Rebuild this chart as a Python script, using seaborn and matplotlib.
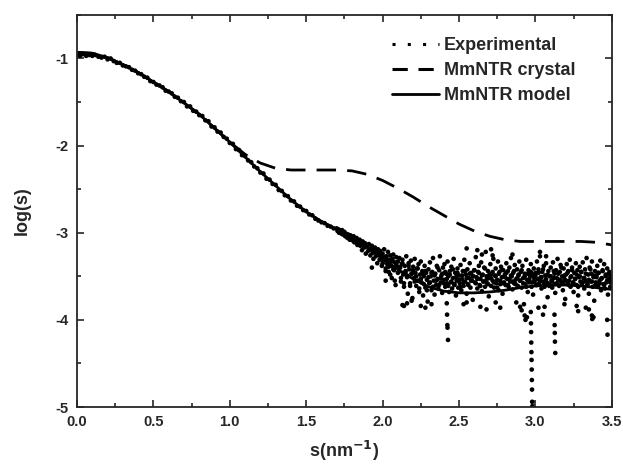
import numpy as np
import matplotlib
matplotlib.use("Agg")
import matplotlib.pyplot as plt
from matplotlib.lines import Line2D
from matplotlib.ticker import MultipleLocator
import seaborn as sns

# model curves, read every 0.1 in s
s_curve = [0.0, 0.1, 0.2, 0.3, 0.4, 0.5, 0.6, 0.7, 0.8, 0.9, 1.0, 1.1, 1.2,
           1.3, 1.4, 1.5, 1.6, 1.7, 1.8, 1.9, 2.0, 2.1, 2.2, 2.3, 2.4, 2.5,
           2.6, 2.7, 2.8, 2.9, 3.0, 3.1, 3.2, 3.3, 3.4, 3.5]
model = [-0.93, -0.94, -0.99, -1.07, -1.16, -1.27, -1.38, -1.51, -1.64, -1.80,
         -1.96, -2.13, -2.30, -2.46, -2.62, -2.76, -2.87, -2.96, -3.06, -3.17,
         -3.30, -3.42, -3.53, -3.62, -3.67, -3.69, -3.69, -3.68, -3.66, -3.63,
         -3.61, -3.60, -3.60, -3.61, -3.63, -3.65]
crystal = [-0.93, -0.94, -0.99, -1.07, -1.16, -1.27, -1.38, -1.51, -1.64, -1.80,
           -1.96, -2.10, -2.20, -2.26, -2.28, -2.28, -2.28, -2.28, -2.29, -2.33,
           -2.40, -2.49, -2.59, -2.70, -2.80, -2.90, -2.98, -3.04, -3.08, -3.10,
           -3.10, -3.10, -3.10, -3.10, -3.11, -3.14]

# experimental, low s part (0 .. 1.68, step 0.02)
exp_low = [-0.96, -0.97, -0.95, -0.97, -0.96, -0.97, -0.96, -0.98, -0.99, -0.98,
           -1.01, -1.00, -1.03, -1.05, -1.05, -1.08, -1.09, -1.10, -1.13, -1.14,
           -1.17, -1.18, -1.21, -1.22, -1.26, -1.27, -1.30, -1.31, -1.33, -1.37,
           -1.38, -1.40, -1.44, -1.45, -1.49, -1.50, -1.55, -1.55, -1.60, -1.61,
           -1.65, -1.66, -1.71, -1.72, -1.78, -1.79, -1.84, -1.85, -1.90, -1.92,
           -1.97, -1.98, -2.04, -2.05, -2.11, -2.12, -2.17, -2.19, -2.24, -2.26,
           -2.31, -2.32, -2.38, -2.39, -2.44, -2.45, -2.51, -2.52, -2.57, -2.58,
           -2.63, -2.64, -2.69, -2.70, -2.74, -2.75, -2.79, -2.80, -2.84, -2.86,
           -2.88, -2.89, -2.92, -2.93, -2.95]

# experimental, high s part (1.70 .. 3.50, step 0.005)
exp_high = [
    -2.95, -2.98, -2.96, -3.00, -2.97, -2.99, -3.01, -2.97, -3.02, -3.00, -2.99, -3.04, -3.01, -3.03, -3.06, -3.02, -3.05, -3.08, -3.03, -3.06,
    -3.05, -3.09, -3.04, -3.11, -3.07, -3.10, -3.06, -3.14, -3.09, -3.12, -3.08, -3.15, -3.11, -3.20, -3.10, -3.13, -3.17, -3.12, -3.24, -3.14,
    -3.16, -3.21, -3.13, -3.19, -3.26, -3.18, -3.15, -3.23, -3.30, -3.20, -3.17, -3.27, -3.22, -3.35, -3.19, -3.25, -3.31, -3.21, -3.28, -3.38,
    -3.24, -3.33, -3.19, -3.29, -3.41, -3.27, -3.36, -3.22, -3.45, -3.31, -3.26, -3.38, -3.52, -3.30, -3.25, -3.43, -3.34, -3.60, -3.28, -3.39,
    -3.33, -3.45, -3.29, -3.40, -3.56, -3.36, -3.31, -3.48, -3.62, -3.38, -3.44, -3.27, -3.51, -3.70, -3.35, -3.42, -3.58, -3.32, -3.47, -3.75,
    -3.39, -3.52, -3.30, -3.46, -3.61, -3.41, -3.55, -3.36, -3.68, -3.48, -3.33, -3.57, -3.44, -3.72, -3.50, -3.38, -3.63, -3.46, -3.54, -3.79,
    -3.42, -3.58, -3.34, -3.50, -3.66, -3.45, -3.29, -3.55, -3.71, -3.47, -3.60, -3.38, -3.53, -3.64, -3.43, -3.27, -3.57, -3.49, -3.69, -3.40,
    -3.54, -3.36, -3.62, -3.47, -3.58, -3.33, -3.50, -3.68, -3.44, -3.57, -3.39, -3.64, -3.52, -3.30, -3.60, -3.46, -3.72, -3.55, -3.41, -3.63,
    -3.49, -3.58, -3.37, -3.66, -3.53, -3.44, -3.61, -3.31, -3.56, -3.48, -3.70, -3.42, -3.59, -3.52, -3.35, -3.63, -3.46, -3.55, -3.77, -3.50,
    -3.43, -3.57, -3.28, -3.51, -3.64, -3.45, -3.38, -3.60, -3.53, -3.34, -3.67, -3.48, -3.56, -3.40, -3.62, -3.22, -3.50, -3.58, -3.44, -3.73,
    -3.52, -3.36, -3.61, -3.47, -3.55, -3.30, -3.63, -3.49, -3.41, -3.58, -3.54, -3.33, -3.66, -3.45, -3.59, -3.39, -3.51, -3.70, -3.43, -3.57,
    -3.48, -3.60, -3.35, -3.53, -3.44, -3.62, -3.40, -3.56, -3.29, -3.50, -3.65, -3.46, -3.58, -3.37, -3.54, -3.80, -3.42, -3.61, -3.49, -3.33,
    -3.55, -3.45, -3.63, -3.38, -3.52, -3.82, -3.47, -3.59, -3.31, -3.54, -3.68, -3.43, -3.57, -3.50, -3.36, -3.62, -3.48, -3.71, -3.41, -3.56,
    -3.46, -3.60, -3.33, -3.53, -3.42, -3.58, -3.27, -3.51, -3.64, -3.45, -3.56, -3.38, -3.62, -3.49, -3.35, -3.57, -3.74, -3.44, -3.59, -3.50,
    -3.40, -3.55, -3.63, -3.34, -3.52, -3.47, -3.69, -3.43, -3.58, -3.30, -3.54, -3.61, -3.45, -3.37, -3.57, -3.50, -3.66, -3.41, -3.53, -3.76,
    -3.48, -3.36, -3.59, -3.44, -3.55, -3.31, -3.62, -3.50, -3.40, -3.57, -3.68, -3.46, -3.53, -3.35, -3.60, -3.43, -3.72, -3.51, -3.39, -3.56,
    -3.45, -3.58, -3.34, -3.52, -3.64, -3.42, -3.55, -3.29, -3.60, -3.48, -3.70, -3.40, -3.56, -3.47, -3.33, -3.62, -3.51, -3.78, -3.44, -3.57,
    -3.49, -3.38, -3.61, -3.46, -3.55, -3.32, -3.66, -3.52, -3.43, -3.59, -3.36, -3.64, -3.48, -3.57, -3.41, -3.71, -3.53, -3.45, -3.62, -3.50,
    -3.55]

# second pass over the dense band (2.00 .. 3.50, step 0.01)
exp_band = [
    -3.35, -3.28, -3.44, -3.31, -3.39, -3.48, -3.33, -3.42, -3.55, -3.37,
    -3.46, -3.40, -3.52, -3.35, -3.58, -3.45, -3.49, -3.38, -3.61, -3.47,
    -3.43, -3.56, -3.50, -3.41, -3.64, -3.53, -3.47, -3.59, -3.44, -3.66,
    -3.51, -3.57, -3.46, -3.62, -3.49, -3.55, -3.40, -3.60, -3.52, -3.47,
    -3.58, -3.45, -3.53, -3.61, -3.48, -3.56, -3.42, -3.59, -3.51, -3.46,
    -3.54, -3.62, -3.49, -3.57, -3.44, -3.52, -3.60, -3.47, -3.55, -3.50,
    -3.43, -3.58, -3.53, -3.46, -3.61, -3.49, -3.56, -3.41, -3.54, -3.59,
    -3.48, -3.52, -3.45, -3.57, -3.50, -3.63, -3.47, -3.55, -3.42, -3.58,
    -3.51, -3.46, -3.60, -3.53, -3.49, -3.56, -3.44, -3.59, -3.52, -3.48,
    -3.55, -3.43, -3.58, -3.50, -3.62, -3.47, -3.54, -3.45, -3.57, -3.52,
    -3.49, -3.60, -3.46, -3.55, -3.51, -3.42, -3.58, -3.53, -3.48, -3.61,
    -3.50, -3.56, -3.44, -3.59, -3.52, -3.47, -3.54, -3.40, -3.57, -3.49,
    -3.55, -3.46, -3.60, -3.51, -3.43, -3.58, -3.53, -3.48, -3.62, -3.50,
    -3.45, -3.57, -3.52, -3.47, -3.59, -3.54, -3.42, -3.56, -3.49, -3.61,
    -3.51, -3.46, -3.58, -3.53, -3.44, -3.60, -3.50, -3.55, -3.47, -3.57,
    -3.52]

# isolated experimental points (spikes and stray dots)
out_s = [2.420, 2.422, 2.424, 2.425, 2.428,
         2.970, 2.971, 2.972, 2.973, 2.974, 2.975, 2.976, 2.977, 2.978, 2.979, 2.980,
         3.125, 3.126, 3.127, 3.128, 3.130,
         3.470, 3.472, 3.370, 3.372, 3.380,
         1.93, 2.02, 2.13, 2.14, 2.16, 2.19, 2.25, 2.28, 2.32, 2.53, 2.55, 2.64,
         2.68, 2.74, 2.77, 2.90, 2.91, 2.93, 2.935, 2.945, 3.02, 3.05, 3.06,
         3.19, 3.27, 3.28, 3.33, 3.35,
         2.55, 2.62, 2.65, 2.71, 2.72, 2.85, 3.03, 3.07]
out_y = [-3.81, -3.94, -4.06, -4.09, -4.23,
         -3.91, -4.04, -4.14, -4.26, -4.37, -4.46, -4.57, -4.69, -4.80, -4.94, -4.99,
         -3.94, -4.06, -4.15, -4.25, -4.38,
         -4.00, -4.17, -3.95, -3.99, -3.97,
         -3.40, -3.55, -3.83, -3.84, -3.81, -3.78, -3.84, -3.86, -3.82, -3.82, -3.80, -3.85,
         -3.88, -3.80, -3.86, -3.85, -3.89, -3.95, -4.00, -3.97, -3.86, -3.94, -3.85,
         -3.82, -3.84, -3.90, -3.86, -3.88,
         -3.18, -3.20, -3.25, -3.19, -3.26, -3.25, -3.22, -3.27]

s_low = np.linspace(0.0, 1.68, len(exp_low))
s_high = np.linspace(1.70, 3.50, len(exp_high))
s_band = np.linspace(2.00, 3.50, len(exp_band))
s_exp = np.concatenate([s_low, s_high, s_band, out_s])
y_exp = np.concatenate([exp_low, exp_high, exp_band, out_y])

sns.set_style("ticks")
plt.rcParams['font.family'] = ['Liberation Sans', 'DejaVu Sans']
plt.rcParams['font.weight'] = 'bold'

fig = plt.figure(figsize=(6.23, 4.66), dpi=100)
ax = fig.add_axes([0.1236, 0.1266, 0.8584, 0.8414])

sns.scatterplot(x=s_exp, y=y_exp, ax=ax, color='black', s=11, marker='o',
                edgecolor='none', linewidth=0)
sns.lineplot(x=s_curve, y=crystal, ax=ax, color='black', lw=2.0,
             linestyle=(0, (7, 4)))
sns.lineplot(x=s_curve, y=model, ax=ax, color='black', lw=2.0)

ax.set_xlim(0, 3.5)
ax.set_ylim(-5, -0.5)
ax.xaxis.set_minor_locator(MultipleLocator(0.25))
ax.yaxis.set_minor_locator(MultipleLocator(0.5))
ax.set_xticks([0.0, 0.5, 1.0, 1.5, 2.0, 2.5, 3.0, 3.5])
ax.set_xticklabels(['0.0', '0.5', '1.0', '1.5', '2.0', '2.5', '3.0', '3.5'])
ax.set_yticks([-5, -4, -3, -2, -1])
ax.set_yticklabels(['-5', '-4', '-3', '-2', '-1'])

for sp in ax.spines.values():
    sp.set_visible(True)
    sp.set_linewidth(1.3)
ax.tick_params(which='both', direction='in', top=True, right=True,
               labeltop=False, labelright=False, width=1.2)
ax.tick_params(which='major', length=5, labelsize=10.5, pad=6)
ax.tick_params(which='minor', length=3)
for lab in ax.get_xticklabels() + ax.get_yticklabels():
    lab.set_fontweight('bold')

ax.set_xlabel(r's(nm$^{\mathbf{-1}}$)', fontsize=13, fontweight='bold', labelpad=7)
ax.set_ylabel('log(s)', fontsize=13, fontweight='bold', labelpad=18)

handles = [
    Line2D([], [], color='black', lw=2.2, linestyle=(0, (1, 4))),
    Line2D([], [], color='black', lw=2.2, linestyle=(0, (5, 3.5))),
    Line2D([], [], color='black', lw=2.0),
]
leg = ax.legend(handles, ['Experimental', 'MmNTR crystal', 'MmNTR model'],
                loc='upper right', bbox_to_anchor=(0.963, 0.985), frameon=False,
                prop={'weight': 'bold', 'size': 13}, handlelength=2.6,
                handletextpad=0.3, labelspacing=0.45)

fig.savefig('out.png', dpi=100)
